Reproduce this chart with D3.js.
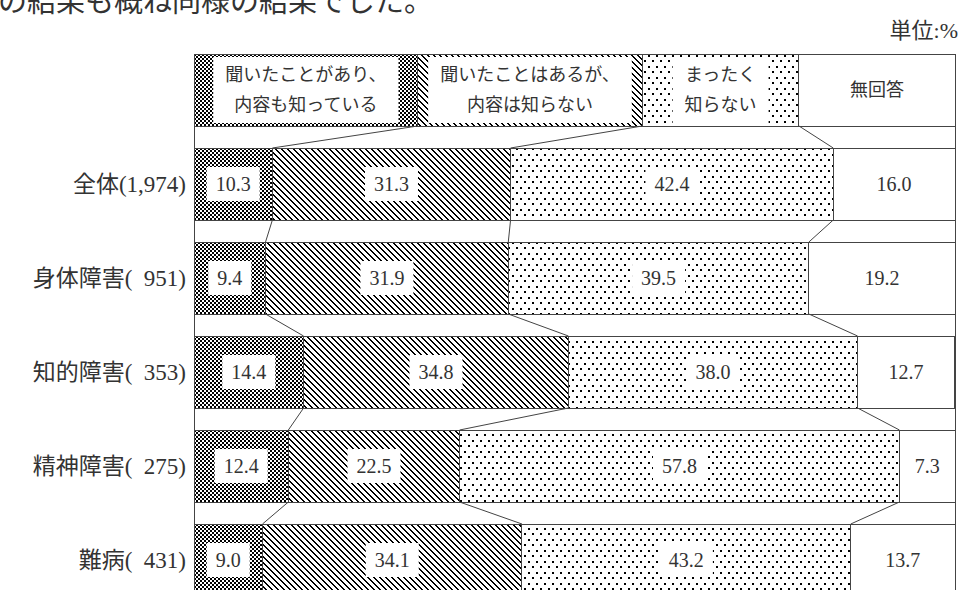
<!DOCTYPE html>
<html>
<head>
<meta charset="utf-8">
<script src="https://cdn.jsdelivr.net/npm/d3@7"></script>
<style>
  body { margin: 0; background: #fff; }
  svg { display: block; }
</style>
</head>
<body>
<div id="container"></div>
<script>
//DATA
const categories = ['全体(1,974)', '身体障害(\u2002951)', '知的障害(\u2002353)', '精神障害(\u2002275)', '難病(\u2002431)']
const seriesLabels = [
    ['聞いたことがあり、', '内容も知っている'],
    ['聞いたことはあるが、', '内容は知らない'],
    ['まったく', '知らない'],
    ['無回答']
]
const knownContent = [10.3, 9.4, 14.4, 12.4, 9.0]
const heardOnly = [31.3, 31.9, 34.8, 22.5, 34.1]
const notKnown = [42.4, 39.5, 38.0, 57.8, 43.2]
const noAnswer = [16.0, 19.2, 12.7, 7.3, 13.7]
const legendShares = [29.4, 29.5, 20.6, 20.5]
const titleText = 'の結果も概ね同様の結果でした。'
const unitText = '単位:%'

//TABLE FOR STACK
const keys = ['k0', 'k1', 'k2', 'k3']
const table = categories.map((c, i) => ({ row: c, k0: knownContent[i], k1: heardOnly[i], k2: notKnown[i], k3: noAnswer[i] }))
const legendRow = { row: 'legend', k0: legendShares[0], k1: legendShares[1], k2: legendShares[2], k3: legendShares[3] }
const rows = [legendRow].concat(table)
const stacked = d3.stack().keys(keys)(rows)

//BOX
const w = 961
const h = 590
const plotLeft = 194
const plotRight = 955
const plotTop = 54
const step = 94
const gap = 22
const lineColor = '#444'
const textColor = '#333'
const serif = '"Liberation Serif", "Noto Sans CJK JP", serif'
const cjk = '"Noto Sans CJK JP", sans-serif'

//SCALES
const xscale = d3.scaleLinear()
    .domain([0, 100])
    .range([plotLeft, plotRight])

const yscale = d3.scaleBand()
    .domain(rows.map(d => d.row))
    .range([plotTop, plotTop + rows.length * step - gap])
    .paddingInner(gap / step)

const bh = yscale.bandwidth()

const svg = d3.select('#container')
    .append('svg')
    .attr('width', w)
    .attr('height', h)

svg.append('rect')
    .attr('width', w)
    .attr('height', h)
    .attr('fill', '#fff')

//PATTERNS (cells are [x, y, width, height])
const defs = svg.append('defs')
function makePattern(id, pw, ph, cells) {
    const p = defs.append('pattern')
        .attr('id', id)
        .attr('patternUnits', 'userSpaceOnUse')
        .attr('width', pw)
        .attr('height', ph)
    p.append('rect').attr('width', pw).attr('height', ph).attr('fill', '#fff')
    p.selectAll('rect.c')
        .data(cells)
        .enter()
        .append('rect')
        .attr('class', 'c')
        .attr('x', d => d[0])
        .attr('y', d => d[1])
        .attr('width', d => d[2])
        .attr('height', d => d[3])
        .attr('fill', '#000')
}
makePattern('p0', 4, 4, [[0, 0, 2, 2], [2, 2, 2, 2]])
makePattern('p1', 6, 6, [[0, 0, 2, 1], [1, 1, 2, 1], [2, 2, 2, 1], [3, 3, 2, 1], [4, 4, 2, 1], [5, 5, 1, 1], [0, 5, 1, 1]])
makePattern('p2', 8, 11, [[0, 0, 2, 2], [4, 5, 2, 2]])
makePattern('p3', 4, 4, [])

//FRAME SIDES
svg.append('g')
    .selectAll('line')
    .data([plotLeft, plotRight])
    .enter()
    .append('line')
    .attr('x1', d => Math.round(d) + 0.5)
    .attr('x2', d => Math.round(d) + 0.5)
    .attr('y1', plotTop)
    .attr('y2', h + 20)
    .attr('stroke', lineColor)
    .attr('stroke-width', 1)

//SEGMENTS
svg.append('g')
    .selectAll('g')
    .data(stacked)
    .enter()
    .append('g')
    .attr('fill', (d, i) => 'url(#p' + i + ')')
    .selectAll('rect')
    .data(d => d)
    .enter()
    .append('rect')
    .attr('x', d => xscale(d[0]))
    .attr('y', d => yscale(d.data.row))
    .attr('width', d => xscale(d[1]) - xscale(d[0]))
    .attr('height', bh)
    .attr('stroke', lineColor)
    .attr('stroke-width', 1)
    .attr('shape-rendering', 'crispEdges')

//CONNECTORS
const links = []
stacked.slice(0, 3).forEach(s => {
    for (let i = 0; i < rows.length - 1; i++) {
        links.push({ a: s[i], b: s[i + 1] })
    }
})
svg.append('g')
    .selectAll('line')
    .data(links)
    .enter()
    .append('line')
    .attr('x1', d => xscale(d.a[1]))
    .attr('y1', d => yscale(d.a.data.row) + bh)
    .attr('x2', d => xscale(d.b[1]))
    .attr('y2', d => yscale(d.b.data.row))
    .attr('stroke', lineColor)
    .attr('stroke-width', 1)

//VALUE LABELS
const valueLabels = svg.append('g')
stacked.forEach(s => {
    s.slice(1).forEach(d => {
        const cx = (xscale(d[0]) + xscale(d[1])) / 2
        const cy = yscale(d.data.row) + bh / 2
        const g = valueLabels.append('g')
        const r = g.append('rect').attr('fill', '#fff')
        const t = g.append('text')
            .attr('x', cx)
            .attr('y', cy)
            .attr('dy', '0.35em')
            .attr('text-anchor', 'middle')
            .style('font-family', serif)
            .style('font-size', '20px')
            .attr('fill', textColor)
            .text((d[1] - d[0]).toFixed(1))
        const tw = t.node().getComputedTextLength()
        r.attr('x', cx - tw / 2 - 9)
            .attr('y', cy - 17)
            .attr('width', tw + 18)
            .attr('height', 34)
    })
})

//LEGEND LABELS
const legendG = svg.append('g')
stacked.forEach((s, i) => {
    const d = s[0]
    const x0 = xscale(d[0])
    const x1 = xscale(d[1])
    const cx = (x0 + x1) / 2
    const cy = yscale('legend') + bh / 2
    const lines = seriesLabels[i]
    const r = legendG.append('rect').attr('fill', '#fff')
    const t = legendG.append('text')
        .attr('text-anchor', 'middle')
        .style('font-family', cjk)
        .style('font-size', '18px')
        .attr('fill', textColor)
    lines.forEach((line, j) => {
        t.append('tspan')
            .attr('x', cx)
            .attr('y', cy + (j - (lines.length - 1) / 2) * 30)
            .attr('dy', '0.36em')
            .text(line)
    })
    const tw = t.node().getBBox().width
    const bw = Math.min(tw + 24, x1 - x0 - 6)
    r.attr('x', cx - bw / 2)
        .attr('y', cy - 33)
        .attr('width', bw)
        .attr('height', 66)
})

//CATEGORY LABELS
svg.append('g')
    .selectAll('text')
    .data(categories)
    .enter()
    .append('text')
    .attr('x', plotLeft - 8)
    .attr('y', d => yscale(d) + bh / 2)
    .attr('dy', '0.36em')
    .attr('text-anchor', 'end')
    .style('font-family', serif)
    .style('font-size', '23px')
    .attr('fill', textColor)
    .text(d => d)

//TITLE AND UNIT
svg.append('text')
    .attr('x', -2)
    .attr('y', 12)
    .style('font-family', cjk)
    .style('font-size', '29px')
    .attr('fill', textColor)
    .text(titleText)

svg.append('text')
    .attr('x', 958)
    .attr('y', 38)
    .attr('text-anchor', 'end')
    .style('font-family', serif)
    .style('font-size', '22px')
    .attr('fill', textColor)
    .text(unitText)
</script>
</body>
</html>
